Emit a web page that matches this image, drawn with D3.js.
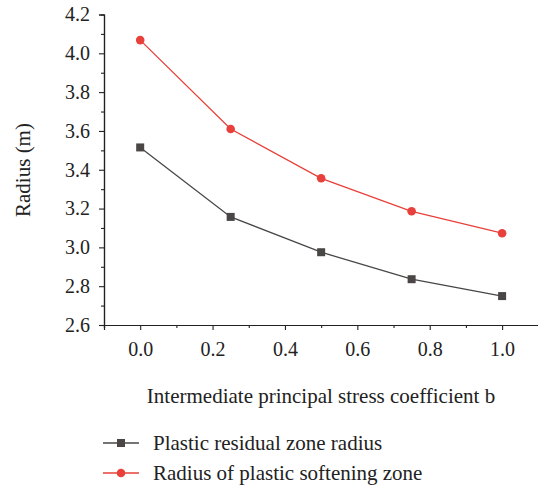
<!DOCTYPE html>
<html>
<head>
<meta charset="utf-8">
<script src="https://cdn.jsdelivr.net/npm/d3@7"></script>
<style>
  body { margin: 0; background: #fff; }
  text { font-family: "Liberation Serif", "DejaVu Serif", serif; fill: #222; }
</style>
</head>
<body>
<script>
var bValues = [0, 0.25, 0.5, 0.75, 1.0],
    residualRadius = [3.515, 3.157, 2.975, 2.836, 2.749],
    softeningRadius = [4.068, 3.610, 3.356, 3.186, 3.073],
    xTicks = [0, 0.2, 0.4, 0.6, 0.8, 1.0],
    yTicks = [2.6, 2.8, 3.0, 3.2, 3.4, 3.6, 3.8, 4.0, 4.2],
    seriesNames = ["Plastic residual zone radius", "Radius of plastic softening zone"];

var width = 538, height = 485,
    mLeft = 104, mRight = 538, mTop = 14.5, mBottom = 325,
    red = "#e8403a", dark = "#4a4646";

var svg = d3.select("body").append("svg")
  .attr("width", width)
  .attr("height", height);

var x = d3.scaleLinear().domain([-0.1, 1.1]).range([mLeft, mRight + 0.3]);
var y = d3.scaleLinear().domain([2.6, 4.2]).range([mBottom, mTop]);

// minor ticks first
var xMinor = d3.axisBottom(x).tickValues(d3.range(-0.1, 1.11, 0.2)).tickSize(3).tickFormat("");
var yMinor = d3.axisLeft(y).tickValues(d3.range(2.7, 4.11, 0.2)).tickSize(3).tickFormat("");

svg.append("g").attr("transform", `translate(0,${mBottom})`).call(xMinor);
svg.append("g").attr("transform", `translate(${mLeft},0)`).call(yMinor);

var xAxis = svg.append("g")
  .attr("transform", `translate(0,${mBottom})`)
  .call(d3.axisBottom(x).tickValues(xTicks).tickSize(5).tickPadding(9).tickFormat(d3.format(".1f")));

var yAxis = svg.append("g")
  .attr("transform", `translate(${mLeft},0)`)
  .call(d3.axisLeft(y).tickValues(yTicks).tickSize(5).tickPadding(9).tickFormat(d3.format(".1f")));

svg.selectAll(".domain").attr("stroke", "#222").attr("stroke-width", 1.2);
svg.selectAll(".tick line").attr("stroke", "#222").attr("stroke-width", 1.1);
svg.selectAll(".tick text")
  .attr("font-family", "Liberation Serif, DejaVu Serif, serif")
  .attr("font-size", 20)
  .attr("fill", "#222");
xAxis.selectAll(".tick text").attr("dy", "0.85em");

// axis titles
svg.append("text")
  .attr("x", 321)
  .attr("y", 403)
  .attr("text-anchor", "middle")
  .attr("font-size", 21)
  .text("Intermediate principal stress coefficient b");

svg.append("text")
  .attr("transform", "translate(30,170) rotate(-90)")
  .attr("text-anchor", "middle")
  .attr("font-size", 21)
  .text("Radius (m)");

var line = d3.line()
  .x((d, i) => x(bValues[i]))
  .y(d => y(d));

// residual (dark, squares)
svg.append("path")
  .datum(residualRadius)
  .attr("fill", "none")
  .attr("stroke", dark)
  .attr("stroke-width", 1.3)
  .attr("d", line);

svg.selectAll(".sq")
  .data(residualRadius)
  .enter().append("rect")
  .attr("x", (d, i) => x(bValues[i]) - 4)
  .attr("y", d => y(d) - 4)
  .attr("width", 8)
  .attr("height", 8)
  .attr("fill", dark);

// softening (red, circles)
svg.append("path")
  .datum(softeningRadius)
  .attr("fill", "none")
  .attr("stroke", red)
  .attr("stroke-width", 1.3)
  .attr("d", line);

svg.selectAll(".dot")
  .data(softeningRadius)
  .enter().append("circle")
  .attr("cx", (d, i) => x(bValues[i]))
  .attr("cy", d => y(d))
  .attr("r", 4.3)
  .attr("fill", red);

// legend
var legend = svg.append("g");
[dark, red].forEach(function (c, i) {
  var ly = 443 + i * 30;
  legend.append("line")
    .attr("x1", 103).attr("x2", 139)
    .attr("y1", ly).attr("y2", ly)
    .attr("stroke", c).attr("stroke-width", 1.3);
  if (i === 0) {
    legend.append("rect")
      .attr("x", 117).attr("y", ly - 4)
      .attr("width", 8).attr("height", 8)
      .attr("fill", c);
  } else {
    legend.append("circle")
      .attr("cx", 121).attr("cy", ly)
      .attr("r", 4.3)
      .attr("fill", c);
  }
  legend.append("text")
    .attr("x", 153)
    .attr("y", ly)
    .attr("dy", "0.33em")
    .attr("font-size", 21)
    .text(seriesNames[i]);
});
</script>
</body>
</html>
